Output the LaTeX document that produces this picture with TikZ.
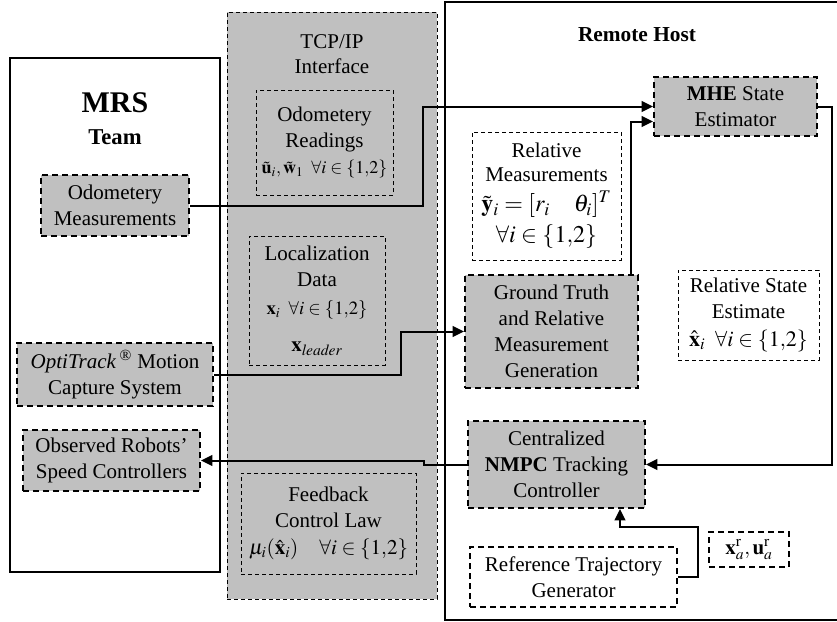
\documentclass[tikz,border=0pt]{standalone}
\usepackage{mathptmx}
\usepackage[no-math]{fontspec}
\setmainfont{Liberation Serif}
\usetikzlibrary{arrows.meta,calc}
\definecolor{boxgray}{RGB}{192,192,192}
\tikzset{
  every node/.style={font=\fontsize{15.75}{19.5}\selectfont, inner sep=0pt},
  gbox/.style={draw, fill=boxgray, line width=1.5pt, dash pattern=on 4.5pt off 3pt, align=center},
  wbox/.style={draw, line width=0.75pt, dash pattern=on 3pt off 2.25pt, align=center},
  wthick/.style={draw, fill=white, line width=1.5pt, dash pattern=on 4.5pt off 3pt, align=center},
  tcpbox/.style={draw, fill=boxgray, line width=0.75pt, dash pattern=on 3pt off 2.25pt},
  frame/.style={draw, line width=1.5pt},
  conn/.style={line width=1.5pt},
  arr/.style={conn, -{Triangle[length=8.5pt,width=8pt]}}
}
\begin{document}
\begin{tikzpicture}[x=0.75pt,y=-0.75pt]
\useasboundingbox (0,0) rectangle (837,621);
\fill[white] (0,0) rectangle (837,621);

% MRS team
\node[frame, minimum width=157.5pt, minimum height=385.5pt] (mrs) at (115,315) {};
\node[font=\bfseries\fontsize{22.5}{26}\selectfont] (mrst) at (115,103) {MRS};
\node[font=\bfseries\fontsize{17}{20}\selectfont] (team) at (115,137) {Team};

% TCP/IP interface
\node[tcpbox, minimum width=157.5pt, minimum height=440.25pt] (tcp) at (332,305.5) {};
\node[align=center, font=\fontsize{15.75}{18.5}\selectfont] (tcpt) at (332,54) {TCP/IP\\Interface};

% Remote host
\begin{scope}
\clip (0,0) rectangle (837,621);
\node[frame, minimum width=311.25pt, minimum height=463.5pt] (remote) at (652.5,310.5) {};
\end{scope}
\node[font=\bfseries\fontsize{16}{19}\selectfont] (remt) at (637,35) {Remote Host};

% boxes in MRS
\node[gbox, minimum width=111pt, minimum height=45.75pt] (odomeas) at (115,205.5) {Odometery\\Measurements};
\node[gbox, minimum width=147pt, minimum height=47.25pt] (opti) at (115,374.5) {\textit{OptiTrack}\,\textsuperscript{®} Motion\\Capture System};
\node[gbox, minimum width=132.75pt, minimum height=45.75pt] (obs) at (111.5,460.5) {Observed Robots’\\Speed Controllers};

% boxes in TCP/IP
\node[wbox, minimum width=102.75pt, minimum height=78.75pt] (odoread) at (324.5,142.5)
  {Odometery\\Readings\\{\fontsize{13.5}{16}\selectfont$\tilde{\mathbf{u}}_i,\tilde{\mathbf{w}}_1\;\;\forall i\in\{1{,}2\}$}};
\node[wbox, minimum width=102pt, minimum height=96.75pt] (loc) at (317,300.5)
  {Localization\\Data\\[2pt]{\fontsize{14}{16}\selectfont$\mathbf{x}_i\;\;\forall i\in\{1{,}2\}$}\\[8pt]$\mathbf{x}_{\mathit{leader}}$};
\node[wbox, minimum width=131.25pt, minimum height=75.75pt] (fb) at (328.5,523.5)
  {Feedback\\Control Law\\[1pt]$\mu_i(\hat{\mathbf{x}}_i)\quad\forall i\in\{1{,}2\}$};

% boxes in remote host
\node[gbox, minimum width=122.25pt, minimum height=44.25pt] (mhe) at (735.5,106.5) {\textbf{MHE} State\\Estimator};
\node[wbox, minimum width=111.75pt, minimum height=96pt] (relmeas) at (546.5,196)
  {Relative\\[-1.5pt]Measurements\\[3pt]{\fontsize{18}{21}\selectfont$\tilde{\mathbf{y}}_i=[r_i\quad\theta_i]^T$}\\[4pt]{\fontsize{18}{21}\selectfont$\forall i\in\{1{,}2\}$}};
\node[gbox, minimum width=129.75pt, minimum height=84.75pt] (gt) at (551.5,331.5)
  {Ground Truth\\and Relative\\Measurement\\Generation};
\node[wbox, minimum width=105.75pt, minimum height=67.5pt] (rse) at (748.5,315)
  {Relative State\\Estimate\\[1pt]{\fontsize{16.5}{19.5}\selectfont$\hat{\mathbf{x}}_i\;\;\forall i\in\{1{,}2\}$}};
\node[gbox, minimum width=132.75pt, minimum height=65.25pt] (nmpc) at (556.5,464.5)
  {Centralized\\\textbf{NMPC} Tracking\\Controller};
\node[wthick, minimum width=155.25pt, minimum height=45pt] (rtg) at (573.5,577)
  {Reference Trajectory\\Generator};
\node[wthick, minimum width=60pt, minimum height=26.25pt] (xu) at (749,549.5)
  {$\mathbf{x}_a^{\mathrm{r}},\mathbf{u}_a^{\mathrm{r}}$};

% connectors
\coordinate (j1) at (423,205.5);
\draw[arr] (odomeas.east) -- (j1) |- (mhe.west);
\draw[arr] ($(gt.north east)+(-8,0)$) |- ($(mhe.west)+(0,15)$);
\coordinate (j2) at (401,374.5);
\draw[arr] (opti.east) -- (j2) |- (gt.west);
\coordinate (j3) at (832,300);
\draw[arr] (mhe.east) -| (j3) |- (nmpc.east);
\coordinate (j4) at (424,464.5);
\draw[arr] (nmpc.west) -- (j4) |- (obs.east);
\coordinate (j5) at (698,527);
\draw[arr] (rtg.east) -| (j5) -| ($(nmpc.south)+(63.5,0)$);
\end{tikzpicture}
\end{document}
